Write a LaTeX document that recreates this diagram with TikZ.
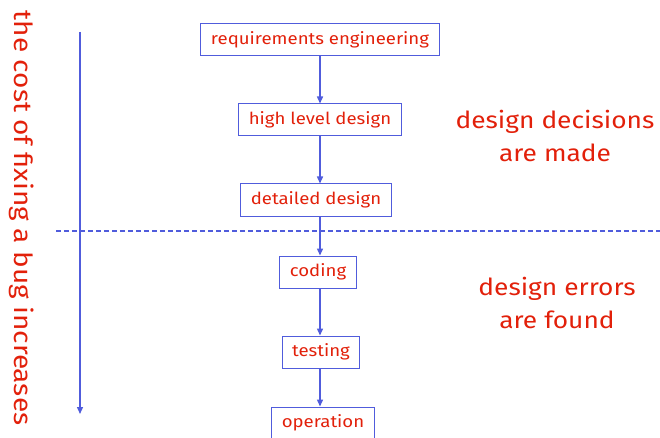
\documentclass[tikz,border=0pt]{standalone}
\usepackage{fontspec}
\setmainfont[FakeStretch=1.12]{Fira Sans}
\usepackage{tikz}
\usetikzlibrary{arrows.meta}

\definecolor{boxblue}{RGB}{80,92,220}
\definecolor{txtred}{RGB}{226,32,10}

\tikzset{
    phase/.style={draw=boxblue, line width=1pt, text=txtred, minimum height=32pt,
        inner xsep=10pt, font=\fontsize{16.6}{19}\selectfont},
    flow/.style={-{Triangle[length=7pt,width=6pt]}, draw=boxblue, line width=1.4pt},
    remark/.style={text=txtred, align=center, font=\fontsize{23.5}{33}\selectfont}
}

\begin{document}
\begin{tikzpicture}[x=1pt, y=-1pt]
    \useasboundingbox (0,0) rectangle (660,438);

    % the phases
    \node[phase] (req) at (320,40) {requirements engineering};
    \node[phase] (hld) at (320,120) {high level design};
    \node[phase] (det) at (316,200) {detailed design};
    \node[phase] (cod) at (318,272) {coding};
    \node[phase] (tst) at (321,352) {testing};
    \node[phase] (ops) at (323,423) {operation};

    \draw[flow] (req.south -| 320,0) -- (hld.north -| 320,0);
    \draw[flow] (hld.south -| 320,0) -- (det.north -| 320,0);
    \draw[flow] (det.south -| 320,0) -- (cod.north -| 320,0);
    \draw[flow] (cod.south -| 320,0) -- (tst.north -| 320,0);
    \draw[flow] (tst.south -| 320,0) -- (ops.north -| 320,0);

    % border between the two halves
    \coordinate (cutL) at (56,231);
    \coordinate (cutR) at (660,231);
    \draw[boxblue, line width=1.1pt, dash pattern=on 5pt off 3pt] (cutL) -- (cutR);

    % cost axis
    \coordinate (top) at (80,32);
    \coordinate (bot) at (80,414);
    \draw[flow] (top) -- (bot);
    \node[remark, rotate=-90, font=\fontsize{25}{30}\selectfont] (cost) at (22,218) {the cost of fixing a bug increases};

    \node[remark] (made) at (555,136) {design decisions\\are made};
    \node[remark] (found) at (557,303) {design errors\\are found};
\end{tikzpicture}
\end{document}
